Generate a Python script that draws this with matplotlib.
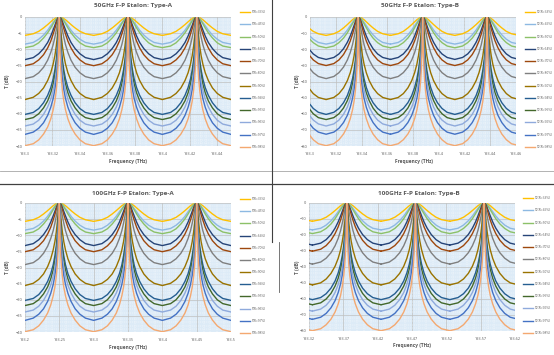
import matplotlib.pyplot as plt
from matplotlib.lines import Line2D
from matplotlib.ticker import MultipleLocator, AutoMinorLocator

plt.rcParams['font.family'] = ['Open Sans', 'DejaVu Sans']

W, H = 554, 355

refl = ['33%', '45%', '50%', '64%', '70%', '80%', '90%', '94%', '95%', '96%', '97%', '98%']
labels_a = ['T(R=%s)' % r for r in refl]
labels_b = ['T2(R=%s)' % r for r in refl]

colors = ['#FFC000', '#8DB9E2', '#8CC168', '#264478', '#9E480E', '#7F7F7F',
          '#997300', '#255E91', '#43682B', '#8FAADC', '#4472C4', '#F4A870']

# distance from a transmission peak, as a fraction of the FSR
detune = [0, 0.005, 0.01, 0.02, 0.03, 0.045, 0.065, 0.09, 0.125, 0.17, 0.23, 0.3, 0.38, 0.5]

# T (dB) read along one half period, one row per reflectivity
type_a_db = [
    [0, 0, 0, -0.05, -0.1, -0.2, -0.5, -0.85, -1.5, -2.35, -3.4, -4.45, -5.2, -5.7],
    [0, 0, 0, -0.1, -0.2, -0.5, -1.0, -1.7, -2.7, -4.1, -5.6, -6.9, -7.9, -8.4],
    [0, 0, 0, -0.1, -0.3, -0.6, -1.2, -2.1, -3.4, -4.9, -6.5, -8.0, -9.0, -9.5],
    [0, 0, -0.1, -0.3, -0.7, -1.4, -2.6, -4.0, -5.9, -7.9, -9.8, -11.4, -12.6, -13.2],
    [0, 0, -0.1, -0.5, -1.1, -2.1, -3.6, -5.3, -7.5, -9.6, -11.7, -13.3, -14.5, -15.1],
    [0, -0.1, -0.3, -1.2, -2.3, -4.1, -6.3, -8.6, -11.0, -13.4, -15.6, -17.3, -18.5, -19.1],
    [0, -0.4, -1.3, -3.8, -6.2, -9.1, -12.0, -14.6, -17.3, -19.7, -22.0, -23.7, -24.9, -25.6],
    [0, -1.0, -3.1, -7.1, -10.1, -13.4, -16.4, -19.2, -21.9, -24.3, -26.6, -28.4, -29.6, -30.2],
    [0, -1.4, -4.0, -8.5, -11.6, -14.9, -18.0, -20.8, -23.5, -26.0, -28.2, -30.0, -31.2, -31.8],
    [0, -2.0, -5.3, -10.2, -13.5, -16.9, -20.0, -22.7, -25.5, -27.9, -30.2, -32.0, -33.2, -33.8],
    [0, -3.2, -7.2, -12.6, -15.9, -19.4, -22.5, -25.3, -28.0, -30.5, -32.8, -34.5, -35.7, -36.4],
    [0, -5.3, -10.3, -16.0, -19.4, -22.9, -26.1, -28.8, -31.6, -34.1, -36.3, -38.1, -39.3, -39.9],
]

type_b_db = [
    [0, 0, 0, -0.1, -0.2, -0.4, -1.0, -1.7, -3.0, -4.7, -6.8, -8.9, -10.4, -11.4],
    [0, 0, -0.1, -0.2, -0.4, -1.0, -1.9, -3.3, -5.4, -8.1, -11.1, -13.8, -15.8, -16.8],
    [0, 0, -0.1, -0.3, -0.6, -1.3, -2.5, -4.2, -6.7, -9.8, -13.1, -15.9, -18.0, -19.1],
    [0, 0, -0.2, -0.7, -1.4, -2.9, -5.2, -8.1, -11.8, -15.7, -19.7, -22.9, -25.1, -26.3],
    [0, -0.1, -0.3, -1.0, -2.1, -4.2, -7.2, -10.7, -14.9, -19.1, -23.3, -26.6, -28.9, -30.1],
    [0, -0.2, -0.7, -2.4, -4.7, -8.3, -12.6, -17.2, -22.1, -26.7, -31.1, -34.5, -36.9, -38.2],
    [0, -0.7, -2.6, -7.7, -12.4, -18.2, -24.0, -29.3, -34.6, -39.5, -44.0, -47.5, -49.9, -51.2],
    [0, -2.0, -6.2, -14.2, -20.2, -26.7, -32.9, -38.3, -43.7, -48.7, -53.2, -56.7, -59.1, -60.4],
    [0, -2.8, -8.0, -16.9, -23.2, -29.9, -36.1, -41.5, -47.0, -51.9, -56.5, -60.0, -62.4, -63.6],
    [0, -4.0, -10.5, -20.4, -26.9, -33.7, -40.0, -45.5, -50.9, -55.9, -60.4, -63.9, -66.3, -67.6],
    [0, -6.3, -14.4, -25.1, -31.9, -38.7, -45.0, -50.5, -56.0, -61.0, -65.5, -69.0, -71.4, -72.7],
    [0, -10.7, -20.6, -32.0, -38.9, -45.8, -52.1, -57.7, -63.1, -68.1, -72.6, -76.1, -78.6, -79.8],
]

# peak frequencies (THz) and free spectral range of each etalon
peaks_50a = [193.325, 193.375, 193.425]
peaks_50b = [193.2875, 193.3375, 193.3875, 193.4375]
peaks_100a = [193.25, 193.35, 193.45]
peaks_100b = [193.275, 193.375, 193.475, 193.575]
fsr_50 = 0.05
fsr_100 = 0.1

xticks_50a = [193.3, 193.32, 193.34, 193.36, 193.38, 193.4, 193.42, 193.44]
xticks_50b = [193.3, 193.32, 193.34, 193.36, 193.38, 193.4, 193.42, 193.44, 193.46]
xticks_100a = [193.2, 193.25, 193.3, 193.35, 193.4, 193.45, 193.5]
xticks_100b = [193.32, 193.37, 193.42, 193.47, 193.52, 193.57, 193.62]

TXT = '#595959'


def fx(x):
    return x / W


def fy(y):
    return 1 - y / H


def trace(peaks, fsr, row):
    xs, ys = [], []
    for p in peaks:
        for d, v in zip(detune[::-1], row[::-1]):
            xs.append(p - d * fsr)
            ys.append(v)
        for d, v in zip(detune[1:], row[1:]):
            xs.append(p + d * fsr)
            ys.append(v)
    return xs, ys


def panel(fig, box, title, peaks, fsr, rows, labels, xticks, xlim, ylim, ystep,
          title_x, title_y, xlab_x, xlab_y, ylab_x, leg_x, leg_y0, leg_y1):
    l, t, r, b = box
    ax = fig.add_axes([fx(l), fy(b), (r - l) / W, (b - t) / H])
    ax.set_facecolor('#DDEBF7')
    for c, row, lab in zip(colors, rows, labels):
        xs, ys = trace(peaks, fsr, row)
        ax.plot(xs, ys, color=c, lw=1.0, label=lab, solid_joinstyle='round')
    ax.set_xlim(*xlim)
    ax.set_ylim(*ylim)
    ax.set_xticks(xticks)
    ax.set_xticklabels(['%g' % v for v in xticks])
    ax.yaxis.set_major_locator(MultipleLocator(ystep))
    ax.xaxis.set_minor_locator(AutoMinorLocator(5))
    ax.yaxis.set_minor_locator(AutoMinorLocator(5))
    ax.grid(which='major', color='#C0C0C0', lw=0.5)
    ax.grid(which='minor', color='#FFFFFF', lw=0.35, ls=(0, (2, 2)))
    ax.set_axisbelow(True)
    for s in ax.spines.values():
        s.set_visible(False)
    ax.tick_params(which='both', length=0, labelsize=2.8, colors=TXT)
    ax.tick_params(axis='x', pad=4.5)
    ax.tick_params(axis='y', pad=2)

    fig.text(fx(title_x), fy(title_y), title, ha='center', va='center',
             fontsize=4.6, fontweight='bold', color=TXT)
    fig.text(fx(xlab_x), fy(xlab_y), 'Frequency (THz)', ha='center', va='center',
             fontsize=3.4, fontweight='bold', color=TXT)
    fig.text(fx(ylab_x), fy((t + b) / 2), 'T (dB)', ha='center', va='center',
             rotation=90, fontsize=3.4, fontweight='bold', color=TXT)

    # legend entries stacked down the right side
    n = len(labels)
    step = (leg_y1 - leg_y0) / (n - 1)
    for i, (c, lab) in enumerate(zip(colors, labels)):
        y = leg_y0 + i * step
        fig.add_artist(Line2D([fx(leg_x), fx(leg_x + 10)], [fy(y), fy(y)],
                              color=c, lw=1.0, transform=fig.transFigure))
        fig.text(fx(leg_x + 12), fy(y), lab, ha='left', va='center',
                 fontsize=2.3, color=TXT)
    return ax


fig = plt.figure(figsize=(W / 100, H / 100), dpi=100)
fig.patch.set_facecolor('white')

panel(fig, (25, 17, 231, 146), '50GHz F-P Etalon: Type-A', peaks_50a, fsr_50,
      type_a_db, labels_a, xticks_50a, (193.30, 193.45), (-40, 0), 5,
      133, 6, 128, 161, 8, 240, 12, 147)
panel(fig, (310, 17, 516, 146), '50GHz F-P Etalon: Type-B', peaks_50b, fsr_50,
      type_b_db, labels_b, xticks_50b, (193.30, 193.46), (-80, 0), 10,
      420, 6, 414, 161, 297, 525, 12, 147)
panel(fig, (25, 203, 231, 332), '100GHz F-P Etalon: Type-A', peaks_100a, fsr_100,
      type_a_db, labels_a, xticks_100a, (193.2, 193.5), (-40, 0), 5,
      133, 193, 128, 347, 8, 240, 199, 333)
panel(fig, (309, 203, 515, 331), '100GHz F-P Etalon: Type-B', peaks_100b, fsr_100,
      type_b_db, labels_b, xticks_100b, (193.32, 193.62), (-80, 0), 10,
      419, 193, 412, 346, 297, 523, 198, 333)

# separators left over from the screenshot grid
fig.add_artist(Line2D([0, 1], [fy(171), fy(171)], color='#A6A6A6', lw=0.6,
                      transform=fig.transFigure))
fig.add_artist(Line2D([0, 1], [fy(183.5), fy(183.5)], color='#404040', lw=0.9,
                      transform=fig.transFigure))
fig.add_artist(Line2D([fx(271.5), fx(271.5)], [fy(0), fy(242)], color='#404040', lw=0.8,
                      transform=fig.transFigure))
fig.add_artist(Line2D([fx(278.5), fx(278.5)], [fy(242), fy(292)], color='#606060', lw=0.6,
                      transform=fig.transFigure))

fig.savefig('out.png', dpi=100)
